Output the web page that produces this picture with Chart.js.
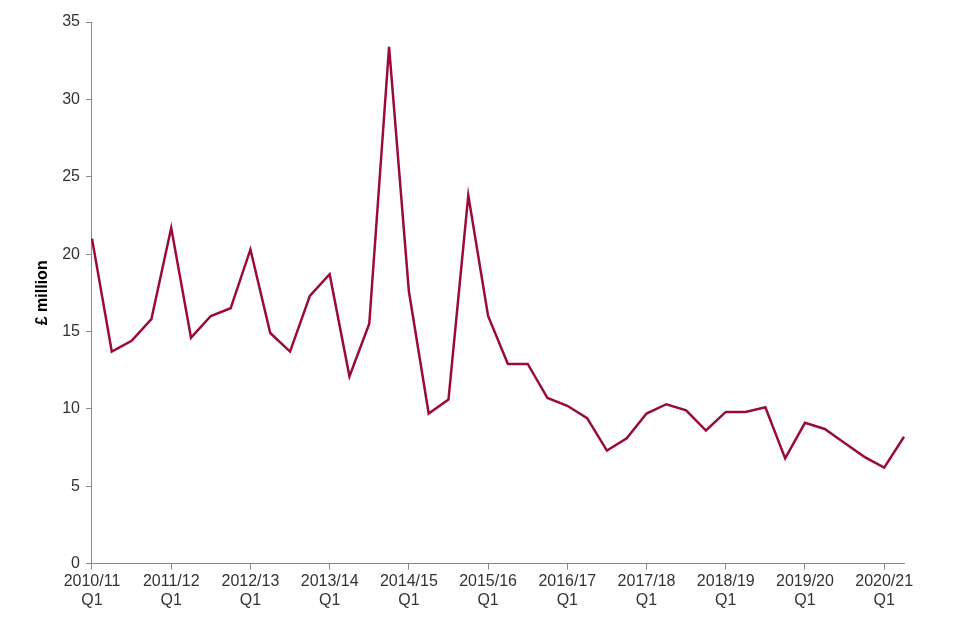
<!DOCTYPE html>
<html><head><meta charset="utf-8">
<script src="https://cdn.jsdelivr.net/npm/chart.js@4/dist/chart.umd.min.js"></script>
<style>body{margin:0;background:#fff}#w{width:960px;height:640px}</style>
</head><body><div id="w"><canvas id="c"></canvas></div>
<script>
const years = ["2010/11","2011/12","2012/13","2013/14","2014/15","2015/16","2016/17","2017/18","2018/19","2019/20","2020/21"];
const values = [21.0,13.7,14.4,15.8,21.7,14.6,16.0,16.5,20.3,14.9,13.7,17.3,18.7,12.1,15.5,33.4,17.6,9.7,10.6,23.8,16.0,12.9,12.9,10.7,10.2,9.4,7.3,8.1,9.7,10.3,9.9,8.6,9.8,9.8,10.1,6.8,9.1,8.7,7.8,6.9,6.2,8.2];
const labels = values.map((v,i)=> i%4===0 ? [years[i/4],"Q1"] : "");
Chart.defaults.font.family = "'Liberation Sans', Arial, sans-serif";
Chart.defaults.color = "#333";
new Chart(document.getElementById('c'), {
  type:'line',
  data:{labels, datasets:[{data:values, borderColor:'#9b0a3c', borderWidth:2.5, pointRadius:0, tension:0, fill:false}]},
  options:{
    responsive:true, maintainAspectRatio:false, animation:false,
    layout:{padding:{top:22,right:56,left:29,bottom:28}},
    plugins:{legend:{display:false}, tooltip:{enabled:false}},
    scales:{
      x:{offset:false, border:{color:'#888',width:1},
        grid:{drawOnChartArea:false, tickLength:6, color:(c)=> c.index%4===0 ? '#888':'rgba(0,0,0,0)'},
        ticks:{autoSkip:false, maxRotation:0, font:{size:16}, color:'#333', padding:2}},
      y:{min:0,max:35, border:{color:'#888',width:1},
        grid:{drawOnChartArea:false, tickLength:6, color:'#888'},
        ticks:{stepSize:5, font:{size:16}, color:'#333', padding:6},
        title:{display:true, text:'£ million', font:{size:16, weight:'bold'}, color:'#000'}}
    }
  }
});
</script></body></html>
